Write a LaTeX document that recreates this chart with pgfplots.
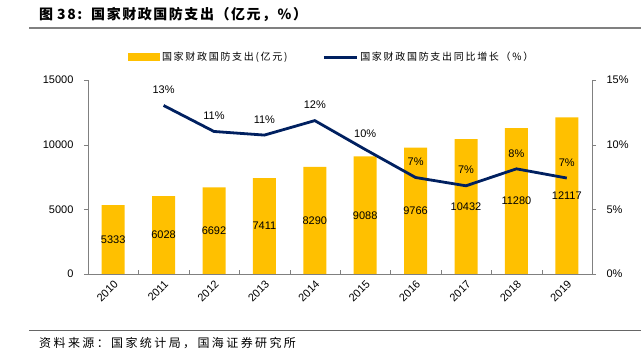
\documentclass[border=0pt]{standalone}
\usepackage{pgfplots}
\pgfplotsset{compat=1.18}
\usepackage{fontspec}
\setmainfont{Liberation Sans}
\newfontfamily\cjk{Noto Sans CJK SC}
\newfontfamily\cjktitle[LetterSpace=11]{Noto Sans CJK SC}
\newfontfamily\cjksp[LetterSpace=20]{Noto Sans CJK SC}
\newfontfamily\cjkleg[LetterSpace=17]{Noto Sans CJK SC}
\definecolor{baryellow}{HTML}{FFC000}
\definecolor{navy}{HTML}{002060}
\begin{document}
\begin{tikzpicture}[x=1pt,y=1pt]
\useasboundingbox (0,0) rectangle (641,356);
% title
\node[anchor=west, inner sep=0pt] at (39,341) {\cjktitle\bfseries\fontsize{14}{16}\selectfont 图\hspace{4pt}38:\hspace{9pt}国家财政国防支出（亿元，\%）};
\draw[gray, line width=1.2pt] (29,328) -- (641,328);
\draw[gray!80!black, line width=1pt] (29,25) -- (641,25);
\node[anchor=west, inner sep=0pt] at (39,13) {\cjksp\fontsize{12}{14}\selectfont 资料来源：国家统计局，国海证券研究所};
\begin{axis}[
  at={(88pt,82pt)}, anchor=south west, scale only axis,
  width=504pt, height=194pt,
  xmin=-0.5, xmax=9.5, ymin=0, ymax=15000,
  scaled y ticks=false,
  axis x line*=bottom, axis y line*=left,
  axis line style={gray, line width=0.6pt},
  xtick={0,...,9},
  xticklabels={2010,2011,2012,2013,2014,2015,2016,2017,2018,2019},
  major x tick style={draw=none},
  minor xtick={0.5,1.5,...,8.5},
  minor x tick style={gray, yshift=4pt},
  minor tick length=4pt,
  ytick={0,5000,10000,15000},
  y tick style={gray},
  tick align=outside,
  major tick length=4pt,
  xticklabel style={rotate=45, anchor=north east, inner sep=1pt},
  yticklabel style={xshift=-7pt, /pgf/number format/1000 sep={}, /pgf/number format/assume math mode=true},
  tick label style={font=\fontsize{11}{13}\selectfont},
  legend style={at={(0.079,1.118)}, anchor=west, draw=none, fill=none,
    legend columns=2, inner sep=0pt,
    font=\cjkleg\fontsize{10}{12}\selectfont,
    /tikz/every even column/.append style={column sep=33pt},
    legend cell align=left},
  clip=false,
]
\addplot[ybar, bar width=23pt, fill=baryellow, draw=none,
  legend image code/.code={\fill[baryellow] (0pt,-4pt) rectangle (32pt,4pt);}]
  coordinates {(0,5333)(1,6028)(2,6692)(3,7411)(4,8290)(5,9088)(6,9766)(7,10432)(8,11280)(9,12117)};
\addlegendentry{国家财政国防支出(亿元)}
\addplot[draw=none, mark=none, forget plot, nodes near coords, point meta=explicit symbolic,
  every node near coord/.append style={anchor=center, font=\fontsize{11}{13}\selectfont}]
  coordinates {(0,2666.5)[5333] (1,3014)[6028] (2,3346)[6692] (3,3705.5)[7411] (4,4145)[8290]
   (5,4544)[9088] (6,4883)[9766] (7,5216)[10432] (8,5640)[11280] (9,6058.5)[12117]};
\addlegendimage{legend image code/.code={\draw[navy, line width=2.8pt] (0pt,0pt) -- (33pt,0pt);}}
\addlegendentry{国家财政国防支出同比增长（\%）}
\end{axis}
\begin{axis}[
  at={(88pt,82pt)}, anchor=south west, scale only axis,
  width=504pt, height=194pt,
  xmin=-0.5, xmax=9.5, ymin=0, ymax=15,
  axis x line=none, axis y line*=right,
  axis line style={gray, line width=0.6pt},
  ytick={0,5,10,15},
  yticklabel={\pgfmathprintnumber{\tick}\%},
  yticklabel style={xshift=7pt, /pgf/number format/assume math mode=true},
  y tick style={gray},
  tick align=outside, major tick length=4pt,
  tick label style={font=\fontsize{11}{13}\selectfont},
  clip=false,
]
\addplot[navy, line width=2.8pt, mark=none, nodes near coords, point meta=explicit symbolic,
  every node near coord/.append style={anchor=south, yshift=7pt, text=black, font=\fontsize{11}{13}\selectfont}]
  coordinates {(1,13.03)[13\%] (2,11.02)[11\%] (3,10.74)[11\%] (4,11.86)[12\%] (5,9.63)[10\%]
   (6,7.46)[7\%] (7,6.82)[7\%] (8,8.13)[8\%] (9,7.42)[7\%]};
\end{axis}
\end{tikzpicture}
\end{document}
